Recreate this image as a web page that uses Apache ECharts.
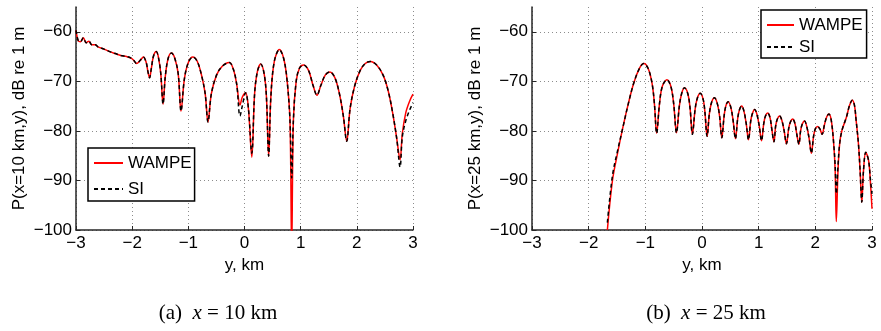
<!DOCTYPE html>
<html>
<head>
<meta charset="utf-8">
<script src="https://cdn.jsdelivr.net/npm/echarts@6/dist/echarts.min.js"></script>
<style>
  html, body { margin: 0; padding: 0; background: #fff; }
  #chart { width: 881px; height: 331px; }
</style>
</head>
<body>
<div id="chart"></div>
<script>
// tick values shared by both panels
const X_TICKS = [-3, -2, -1, 0, 1, 2, 3];
const Y_TICKS = [-100, -90, -80, -70, -60];

// (a) x = 10 km
const Y_A = [-3.00,-2.96,-2.92,-2.87,-2.82,-2.77,-2.72,-2.66,-2.60,-2.50,
  -2.40,-2.30,-2.20,-2.10,-2.02,-1.97,-1.92,-1.86,-1.80,-1.75,
  -1.72,-1.69,-1.66,-1.62,-1.57,-1.53,-1.49,-1.45,-1.41,-1.36,
  -1.30,-1.24,-1.18,-1.13,-1.07,-1.00,-0.92,-0.84,-0.76,-0.70,
  -0.65,-0.59,-0.50,-0.40,-0.27,-0.20,-0.14,-0.08,-0.04,0.02,
  0.07,0.13,0.18,0.23,0.29,0.35,0.39,0.43,0.47,0.53,
  0.62,0.70,0.76,0.81,0.84,0.87,0.92,0.98,1.05,1.14,
  1.22,1.29,1.36,1.44,1.52,1.61,1.69,1.76,1.82,1.88,
  1.96,2.06,2.15,2.24,2.36,2.47,2.56,2.64,2.71,2.77,
  2.81,2.87,2.94,3.00];
const WAMPE_A = [-59.7,-61.8,-62.0,-61.2,-62.2,-61.9,-62.6,-62.6,-63.1,-63.5,
  -64.0,-64.4,-64.8,-65.0,-65.3,-65.8,-66.4,-65.8,-65.1,-66.2,
  -68.0,-69.3,-67.5,-64.9,-64.0,-65.3,-68.5,-74.6,-69.0,-65.4,
  -64.3,-65.4,-68.5,-76.0,-69.5,-66.2,-65.1,-66.0,-69.0,-72.5,
  -78.2,-72.5,-68.8,-67.0,-66.2,-67.5,-70.5,-74.8,-73.2,-72.3,
  -75.5,-85.3,-72.5,-68.0,-66.5,-68.5,-73.0,-85.1,-73.0,-66.0,
  -63.6,-65.5,-70.0,-78.0,-104,-78.0,-70.0,-67.3,-66.7,-67.8,
  -70.8,-72.8,-70.8,-68.7,-68.1,-69.3,-72.5,-77.0,-82.1,-75.5,
  -71.0,-67.8,-66.4,-66.0,-66.8,-68.8,-72.0,-76.5,-81.5,-85.8,
  -80.5,-76.4,-74.0,-72.6];
const SI_A = [-59.7,-61.8,-62.0,-61.2,-62.2,-61.9,-62.6,-62.6,-63.1,-63.5,
  -64.0,-64.4,-64.8,-65.0,-65.3,-65.8,-66.4,-65.8,-65.1,-66.2,
  -68.0,-69.3,-67.5,-64.9,-64.0,-65.3,-68.5,-74.6,-69.0,-65.4,
  -64.3,-65.4,-68.5,-76.0,-69.5,-66.2,-65.1,-66.0,-69.0,-72.5,
  -78.2,-72.5,-68.8,-67.0,-66.2,-67.5,-70.5,-77.0,-75.0,-72.3,
  -75.5,-84.5,-72.5,-68.0,-66.5,-68.5,-73.0,-85.1,-73.0,-66.0,
  -63.6,-65.5,-70.0,-78.0,-89.5,-78.0,-70.0,-67.3,-66.7,-67.8,
  -70.8,-72.8,-70.8,-68.7,-68.1,-69.3,-72.5,-77.0,-82.1,-75.5,
  -71.0,-67.8,-66.4,-66.0,-66.8,-68.8,-72.0,-76.5,-81.5,-87.3,
  -81.2,-78.0,-75.8,-74.3];

// (b) x = 25 km
const Y_B = [-1.67,-1.58,-1.49,-1.40,-1.30,-1.20,-1.10,-1.03,-0.95,-0.88,
  -0.84,-0.80,-0.75,-0.70,-0.62,-0.55,-0.50,-0.45,-0.40,-0.36,
  -0.31,-0.25,-0.21,-0.17,-0.12,-0.08,-0.03,0.02,0.05,0.09,
  0.13,0.17,0.22,0.27,0.31,0.35,0.39,0.42,0.46,0.51,
  0.55,0.59,0.63,0.66,0.70,0.74,0.78,0.82,0.86,0.89,
  0.93,0.97,1.01,1.05,1.09,1.12,1.16,1.20,1.23,1.27,
  1.30,1.33,1.37,1.41,1.45,1.49,1.53,1.56,1.60,1.64,
  1.67,1.71,1.74,1.77,1.81,1.85,1.89,1.93,1.97,2.00,
  2.04,2.08,2.12,2.16,2.20,2.24,2.28,2.32,2.35,2.37,
  2.40,2.43,2.47,2.55,2.60,2.65,2.69,2.72,2.76,2.79,
  2.82,2.85,2.89,2.94,2.97,3.00];
const WAMPE_B = [-100,-90.0,-84.5,-79.5,-74.5,-70.2,-67.3,-66.4,-67.4,-70.5,
  -74.5,-80.5,-74.5,-71.0,-69.7,-71.0,-74.5,-80.4,-75.0,-72.5,
  -71.3,-72.5,-75.5,-80.7,-75.5,-73.3,-72.4,-73.6,-76.0,-81.1,
  -76.5,-74.2,-73.3,-74.5,-77.0,-81.4,-77.0,-75.0,-74.1,-75.3,
  -78.0,-81.6,-77.5,-75.8,-75.0,-76.0,-78.5,-81.8,-78.0,-76.5,
  -75.7,-76.7,-79.0,-82.0,-78.5,-77.0,-76.4,-77.3,-79.5,-82.2,
  -79.0,-77.6,-77.0,-77.9,-80.0,-82.6,-79.5,-78.2,-77.6,-78.5,
  -80.5,-82.7,-80.0,-78.6,-78.0,-79.2,-81.5,-84.5,-81.0,-79.6,
  -79.1,-79.6,-80.7,-78.8,-77.2,-76.6,-77.8,-82.0,-88.0,-98.3,
  -88.0,-82.5,-79.9,-77.2,-75.0,-73.8,-74.8,-77.9,-82.5,-88.0,
  -94.4,-88.0,-84.3,-86.0,-90.0,-95.7];
const SI_B = [-98.5,-89.0,-84.0,-79.5,-74.5,-70.2,-67.3,-66.4,-67.4,-70.5,
  -74.5,-80.5,-74.5,-71.0,-69.7,-71.0,-74.5,-80.4,-75.0,-72.5,
  -71.3,-72.5,-75.5,-80.7,-75.5,-73.3,-72.4,-73.6,-76.0,-81.1,
  -76.5,-74.2,-73.3,-74.5,-77.0,-81.4,-77.0,-75.0,-74.1,-75.3,
  -78.0,-81.6,-77.5,-75.8,-75.0,-76.0,-78.5,-81.8,-78.0,-76.5,
  -75.7,-76.7,-79.0,-82.0,-78.5,-77.0,-76.4,-77.3,-79.5,-82.2,
  -79.0,-77.6,-77.0,-77.9,-80.0,-82.6,-79.5,-78.2,-77.6,-78.5,
  -80.5,-82.7,-80.0,-78.6,-78.0,-79.2,-81.5,-84.5,-81.0,-79.6,
  -79.1,-79.6,-80.7,-78.8,-77.2,-76.6,-77.8,-82.0,-87.0,-92.7,
  -87.0,-82.5,-79.9,-77.2,-75.0,-73.8,-74.8,-77.9,-82.5,-88.0,
  -94.4,-88.0,-84.3,-86.0,-89.5,-92.7];

const FONT = 'Liberation Sans, Arial, sans-serif';
const SERIF = 'Liberation Serif, serif';
const fmt = v => String(v).replace('-', '\u2212');
const pairs = (xs, ys) => xs.map((x, i) => [x, ys[i]]);

const chart = echarts.init(document.getElementById('chart'), null, { renderer: 'canvas' });

function xAxis(gridIndex) {
  return {
    type: 'value', gridIndex, min: -3, max: 3, interval: 1,
    name: 'y, km', nameLocation: 'middle', nameGap: 24,
    nameTextStyle: { fontSize: 17, fontFamily: FONT, color: '#000' },
    axisLine: { onZero: false, lineStyle: { color: '#262626', width: 1.5 } },
    axisTick: { inside: true, length: 4, customValues: X_TICKS, lineStyle: { color: '#262626' } },
    axisLabel: { margin: 5, fontSize: 17, fontFamily: FONT, color: '#000', formatter: fmt, customValues: X_TICKS },
    splitLine: { show: true, lineStyle: { color: '#8c8c8c', type: [1, 3], width: 1 } }
  };
}

function yAxis(gridIndex, name) {
  return {
    type: 'value', gridIndex, min: -100, max: -55, interval: 10,
    name, nameLocation: 'middle', nameGap: 48,
    nameTextStyle: { fontSize: 17, fontFamily: FONT, color: '#000' },
    axisLine: { show: true, onZero: false, lineStyle: { color: '#262626', width: 1.5 } },
    axisTick: { inside: true, length: 4, customValues: Y_TICKS, lineStyle: { color: '#262626' } },
    axisLabel: { margin: 4, fontSize: 17, fontFamily: FONT, color: '#000', formatter: fmt, customValues: Y_TICKS },
    splitLine: { show: true, lineStyle: { color: '#8c8c8c', type: [1, 3], width: 1 } }
  };
}

function line(name, data, idx, color, dashed) {
  return {
    name, type: 'line', data, xAxisIndex: idx, yAxisIndex: idx,
    symbol: 'none', smooth: 0.35, animation: false,
    lineStyle: { color, width: 1.5, type: dashed ? [4, 3] : 'solid' },
    itemStyle: { color }
  };
}

const legendBase = {
  orient: 'vertical', itemWidth: 29, itemHeight: 14,
  backgroundColor: '#fff', borderColor: '#000', borderWidth: 1.5, borderRadius: 0,
  itemStyle: { opacity: 0 },
  textStyle: { fontSize: 17, fontFamily: FONT, color: '#000', lineHeight: 18 },
  data: ['WAMPE', 'SI'], selectedMode: false
};

function caption(x, tag, val) {
  return {
    type: 'text', x, y: 313,
    style: {
      text: '{n|' + tag + '  }{i|x}{n| = ' + val + ' km}', align: 'center', verticalAlign: 'middle',
      rich: {
        n: { fontSize: 21, fontFamily: SERIF, fill: '#000' },
        i: { fontSize: 21, fontFamily: SERIF, fontStyle: 'italic', fill: '#000' }
      }
    }
  };
}

chart.setOption({
  animation: false,
  grid: [
    { left: 76, right: 468, top: 7, bottom: 101 },
    { left: 532, right: 9, top: 7, bottom: 101 }
  ],
  xAxis: [xAxis(0), xAxis(1)],
  yAxis: [yAxis(0, 'P(x=10 km,y), dB re 1 m'), yAxis(1, 'P(x=25 km,y), dB re 1 m')],
  legend: [
    Object.assign({}, legendBase, { left: 88, top: 148, itemGap: 8, padding: [6, 3, 3, 5] }),
    Object.assign({}, legendBase, { left: 761, top: 10, itemGap: 4, itemWidth: 27, padding: [6, 4, 2, 5] })
  ],
  graphic: [caption(218, '(a)', 10), caption(706, '(b)', 25)],
  series: [
    line('WAMPE', pairs(Y_A, WAMPE_A), 0, '#ff0000', false),
    line('SI', pairs(Y_A, SI_A), 0, '#000000', true),
    line('WAMPE', pairs(Y_B, WAMPE_B), 1, '#ff0000', false),
    line('SI', pairs(Y_B, SI_B), 1, '#000000', true)
  ]
});
</script>
</body>
</html>
